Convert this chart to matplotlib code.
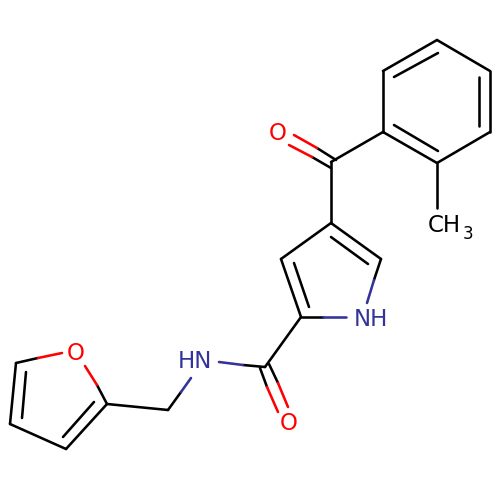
import matplotlib
matplotlib.use("Agg")
import matplotlib.pyplot as plt

black = "#000000"
red = "#FF0000"
navy = "#333399"

# atom positions (pixels)
atom_names = ["b1", "b2", "b3", "b4", "b5", "b6", "co", "c4", "c5", "c3", "c2", "am", "ch2", "f2", "f3", "f4", "f5"]
atom_x = [437, 490, 490, 437, 383, 383, 331, 331, 381, 281, 301, 265, 168, 107, 66, 10, 16]
atom_y = [40, 71, 132, 163, 132, 71, 162, 223, 259, 259, 317, 367, 410, 404, 449, 424, 363]
atoms = dict(zip(atom_names, zip(atom_x, atom_y)))

# plain carbon-carbon bonds
cc_bonds = [
    ("b1", "b2"), ("b2", "b3"), ("b3", "b4"), ("b4", "b5"), ("b5", "b6"), ("b6", "b1"),
    ("b5", "co"), ("co", "c4"), ("c4", "c5"), ("c4", "c3"), ("c3", "c2"), ("c2", "am"),
    ("ch2", "f2"), ("f2", "f3"), ("f3", "f4"), ("f4", "f5"),
]
methyl_bond = [(437, 163), (437, 208)]

# inner lines of the double bonds
inner_lines = [
    [(394, 77), (438, 53)], [(479, 77), (479, 126)], [(394, 125), (438, 151)],
    [(331, 237), (368, 264)], [(294, 263), (309, 307)],
    [(26, 372), (22, 418)], [(94, 402), (63, 437)],
]

# hetero bonds: black end, colour change, coloured end
navy_bonds = [
    [(301, 317), (323, 317), (346, 317)],
    [(381, 259), (374, 280), (367, 303)],
    [(265, 367), (243, 365), (219, 362)],
    [(168, 410), (181, 392), (191, 378)],
]
red_bonds = [
    [(336, 160), (317, 148), (294, 135)],
    [(331, 168), (312, 157), (289, 145)],
    [(269, 364), (278, 383), (288, 407)],
    [(260, 368), (267, 387), (278, 412)],
    [(107, 404), (97, 385), (85, 366)],
    [(16, 363), (38, 358), (62, 353)],
]

# labels
labels = ["O", "O", "O", "NH", "HN", "CH"]
label_x = [278, 289, 76, 370.5, 194.5, 444]
label_y = [133, 424, 353, 319, 362, 225]
label_colors = [red, red, red, navy, navy, black]

fig = plt.figure(figsize=(5, 5), dpi=100)
ax = fig.add_axes([0, 0, 1, 1])
ax.set_xlim(0, 500)
ax.set_ylim(500, 0)
ax.axis("off")

lw = 1.85


def seg(p, q, color):
    ax.plot([p[0], q[0]], [p[1], q[1]], color=color, lw=lw, solid_capstyle="round")


for a, b in cc_bonds:
    seg(atoms[a], atoms[b], black)
seg(methyl_bond[0], methyl_bond[1], black)
for p, q in inner_lines:
    seg(p, q, black)
for start, mid, end in navy_bonds:
    seg(start, mid, black)
    seg(mid, end, navy)
for start, mid, end in red_bonds:
    seg(start, mid, black)
    seg(mid, end, red)

for txt, x, y, c in zip(labels, label_x, label_y, label_colors):
    ax.text(x, y, txt, color=c, fontsize=16.5, family="DejaVu Sans", ha="center", va="center")
ax.text(468, 234, "3", color=black, fontsize=12, family="DejaVu Sans", ha="center", va="center")

plt.savefig("out.png", dpi=100)
